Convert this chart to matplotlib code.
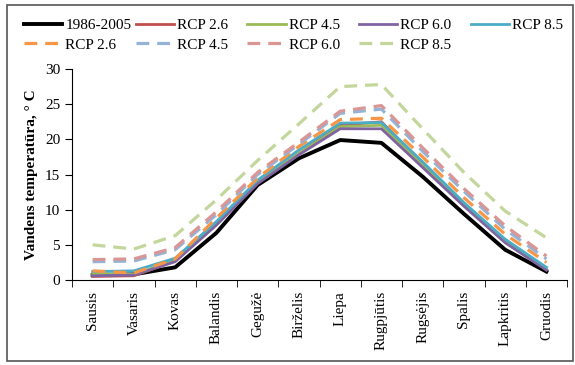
import matplotlib
matplotlib.use("Agg")
import matplotlib.pyplot as plt
from matplotlib.patches import Rectangle

plt.rcParams["font.family"] = ["Liberation Serif", "DejaVu Serif"]

months = ["Sausis", "Vasaris", "Kovas", "Balandis", "Gegužė", "Birželis",
          "Liepa", "Rugpjūtis", "Rugsėjis", "Spalis", "Lapkritis", "Gruodis"]

baseline = [0.7, 0.8, 1.8, 6.7, 13.5, 17.3, 19.9, 19.5, 14.7, 9.4, 4.3, 1.2]

rcp26_a = [0.5, 0.6, 2.7, 8.0, 13.8, 18.0, 22.0, 22.5, 16.5, 10.8, 5.5, 1.5]
rcp45_a = [0.9, 0.8, 2.8, 8.0, 13.9, 18.0, 21.8, 22.0, 16.3, 10.6, 5.4, 1.5]
rcp60_a = [0.6, 0.7, 2.6, 7.8, 13.7, 17.8, 21.5, 21.5, 16.0, 10.5, 5.3, 1.4]
rcp85_a = [1.2, 1.3, 3.1, 8.3, 14.2, 18.5, 22.3, 22.4, 16.8, 11.0, 5.8, 1.8]

rcp26_b = [1.3, 1.0, 3.0, 8.8, 14.5, 19.0, 22.8, 23.0, 17.5, 11.7, 6.5, 2.5]
rcp45_b = [2.6, 2.7, 4.3, 9.3, 15.0, 19.3, 23.7, 24.3, 18.3, 12.6, 7.2, 3.0]
rcp60_b = [2.9, 3.0, 4.6, 9.7, 15.3, 19.6, 24.0, 24.8, 18.8, 13.0, 7.7, 3.4]
rcp85_b = [5.0, 4.4, 6.3, 11.4, 17.0, 22.2, 27.5, 27.8, 21.5, 15.3, 9.8, 6.0]

x = list(range(len(months)))
pad = "    "  # keeps legend columns evenly spaced like the original
fs = 11

fig = plt.figure(figsize=(5.75, 3.65), dpi=100)
ax = fig.add_axes([0.1252, 0.2329, 0.861, 0.578])

handles = []
handles += ax.plot(x, baseline, color="black", linewidth=2.8, label="1986-2005")
handles += ax.plot(x, rcp26_a, color="#C0504D", linewidth=2.0, label="RCP 2.6" + pad)
handles += ax.plot(x, rcp45_a, color="#9BBB59", linewidth=2.0, label="RCP 4.5" + pad)
handles += ax.plot(x, rcp60_a, color="#8064A2", linewidth=2.0, label="RCP 6.0" + pad)
handles += ax.plot(x, rcp85_a, color="#4BACC6", linewidth=2.0, label="RCP 8.5")

dash = (0, (4, 2.5))
handles += ax.plot(x, rcp26_b, color="#F79646", linewidth=2.3, linestyle=dash, label="RCP 2.6" + pad)
handles += ax.plot(x, rcp45_b, color="#95B3D7", linewidth=2.3, linestyle=dash, label="RCP 4.5" + pad)
handles += ax.plot(x, rcp60_b, color="#D99694", linewidth=2.3, linestyle=dash, label="RCP 6.0" + pad)
handles += ax.plot(x, rcp85_b, color="#C3D69B", linewidth=2.3, linestyle=dash, label="RCP 8.5")

ax.set_xlim(-0.5, len(months) - 0.5)
ax.set_ylim(0, 30)
ax.set_yticks(range(0, 31, 5))
ax.set_xticks(x)
ax.set_xticklabels(months, rotation=90, fontsize=fs)
ax.set_xticks([i - 0.5 for i in range(len(months) + 1)], minor=True)
ax.tick_params(axis="x", which="major", length=0, pad=8)
ax.tick_params(axis="x", which="minor", length=5, direction="out")
ax.tick_params(axis="y", labelsize=fs, length=5, direction="out")
ax.set_ylabel("Vandens temperatūra, ° C", fontsize=fs, fontweight="bold", labelpad=5)

for side in ["top", "right"]:
    ax.spines[side].set_visible(False)

# legend fills column by column, so reorder to read row by row
order = [0, 5, 1, 6, 2, 7, 3, 8, 4]
fig.legend([handles[i] for i in order], [handles[i].get_label() for i in order],
           loc="upper left", bbox_to_anchor=(0.031, 0.967), ncol=5,
           frameon=False, fontsize=fs, handlelength=2.5, handletextpad=0.2,
           columnspacing=0.25, labelspacing=0.4, borderaxespad=0)

fig.patches.append(Rectangle((0.012, 0.01), 0.985, 0.975, transform=fig.transFigure,
                             fill=False, edgecolor="#555555", linewidth=1.2))

fig.savefig("out.png", dpi=100)
